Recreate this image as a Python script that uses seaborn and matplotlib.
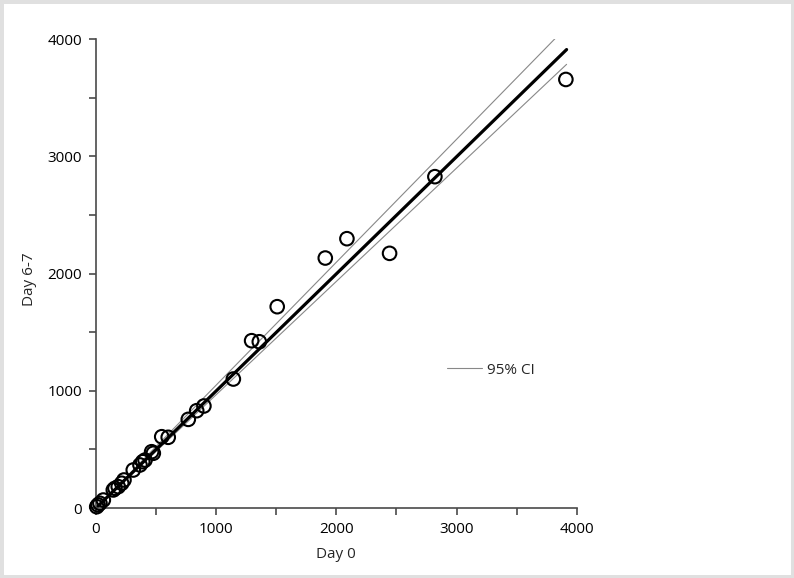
import seaborn as sns
import matplotlib
import matplotlib.pyplot as plt
import matplotlib.patches as patches
from matplotlib.ticker import MultipleLocator
import pandas as pd
import numpy as np

# values
day0 = [6, 17, 33, 61, 144, 158, 185, 214, 233, 310, 366, 389, 408, 463, 477,
        547, 601, 768, 838, 898, 1143, 1295, 1359, 1508, 1908, 2088, 2443,
        2820, 3910]
day67 = [11, 26, 40, 68, 154, 168, 182, 211, 239, 324, 367, 395, 409, 480, 467,
         608, 603, 756, 830, 870, 1100, 1427, 1418, 1717, 2132, 2297, 2172,
         2826, 3655]

line_x = [0, 3916]
fit_y = [0, 3910]
ci_upper_y = [0, 4104]
ci_lower_y = [0, 3784]

sns.set_style("ticks")
plt.rcParams.update(
    {
        "font.family": ["Open Sans", "DejaVu Sans"],
        "font.size": 11,
        "axes.edgecolor": "#4a4a4a",
        "axes.linewidth": 1.2,
        "xtick.color": "#4a4a4a",
        "ytick.color": "#4a4a4a",
        "xtick.labelcolor": "black",
        "ytick.labelcolor": "black",
    }
)

pts = pd.DataFrame({"day0": day0, "day67": day67})
lines = pd.DataFrame(
    {"x": line_x, "fit": fit_y, "upper": ci_upper_y, "lower": ci_lower_y}
)

fig = plt.figure(figsize=(7.94, 5.78), dpi=100)
ax = fig.add_axes([0.1209, 0.1211, 0.6054, 0.8114])

sns.lineplot(ax=ax, data=lines, x="x", y="upper", color="#888888", lw=0.8,
             estimator=None, label="95% CI")
sns.lineplot(ax=ax, data=lines, x="x", y="lower", color="#888888", lw=0.8,
             estimator=None)
sns.lineplot(ax=ax, data=lines, x="x", y="fit", color="black", lw=2.3,
             estimator=None)
sns.scatterplot(ax=ax, data=pts, x="day0", y="day67", s=95,
                facecolor="none", edgecolor="black", linewidth=1.5,
                zorder=3, clip_on=False)

ax.set_xlim(0, 4000)
ax.set_ylim(0, 4000)
ax.xaxis.set_major_locator(MultipleLocator(1000))
ax.yaxis.set_major_locator(MultipleLocator(1000))
ax.xaxis.set_minor_locator(MultipleLocator(500))
ax.yaxis.set_minor_locator(MultipleLocator(500))
ax.tick_params(which="both", direction="out", length=5, width=1.2)
ax.tick_params(which="major", pad=5)
sns.despine(ax=ax)

ax.set_xlabel("Day 0")
ax.set_ylabel("Day 6-7")
ax.xaxis.set_label_coords(0.499, -0.0825)
ax.yaxis.set_label_coords(-0.123, 0.488)

handles, labels = ax.get_legend_handles_labels()
ax.legend(
    handles[:1],
    labels[:1],
    loc="center left",
    bbox_to_anchor=(447 / 794, 1 - 370 / 578),
    bbox_transform=fig.transFigure,
    frameon=False,
    borderpad=0,
    borderaxespad=0,
    handlelength=2.3,
    handletextpad=0.3,
)

fig.patches.append(
    patches.Rectangle((0, 0), 1, 1, transform=fig.transFigure, fill=False,
                      edgecolor="#e0e0e0", linewidth=5)
)

fig.savefig("out.png", dpi=100)
